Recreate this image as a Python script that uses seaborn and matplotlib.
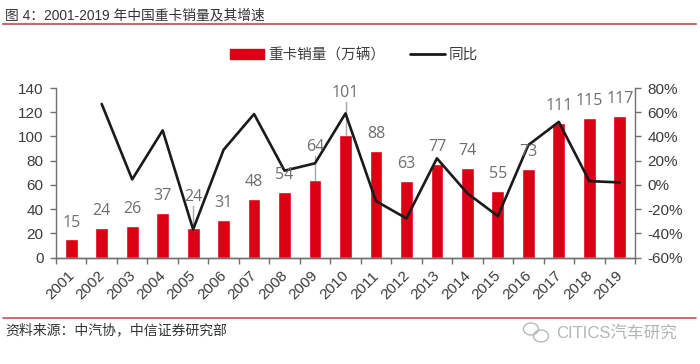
import matplotlib
matplotlib.use("Agg")
import matplotlib.pyplot as plt
from matplotlib.lines import Line2D
from matplotlib.patches import Patch, Ellipse
import numpy as np
import pandas as pd
import seaborn as sns

years = [str(y) for y in range(2001, 2020)]
sales = [15, 24, 26, 37, 24, 31, 48, 54, 64, 101, 88, 63, 77, 74, 55, 73, 111, 115, 117]
yoy = [np.nan, 66.8, 4.5, 45, -36.8, 29, 58.5, 11.7, 17.8, 59, -13.4, -27.7, 21.9, -7, -25.8, 32.9, 52, 3.1, 2]
label_offsets_px = [16, 17, 17, 17, 31, 17, 17, 17, 33, 42, 17, 17, 17, 17, 17, 17, 17, 17, 17]
leader_years = ["2005", "2009", "2010"]

W, H = 700, 364
sns.set_theme(style="white")
plt.rcParams['font.family'] = ['Liberation Sans', 'Noto Sans CJK SC', 'DejaVu Sans']
fig = plt.figure(figsize=(W / 100, H / 100), dpi=100, facecolor="white")
ax = fig.add_axes([56 / W, 1 - 257.5 / H, (635 - 56) / W, (257.5 - 88) / H])

RED = "#dc0014"
TXT = "#3c3c3c"
GREY = "#6e6e6e"
AX = "#707070"
df = pd.DataFrame({"year": years, "sales": sales, "yoy": yoy})
sns.barplot(data=df, x="year", y="sales", color=RED, saturation=1, width=0.42, ax=ax)
ax.set_xlim(-0.5, 18.5)
ax.set_ylim(0, 140)
ax.set_yticks(range(0, 141, 20))
ax.set_xlabel("")
ax.set_ylabel("")
ax.set_xticks(np.arange(-0.5, 19, 1), minor=False)
ax.set_xticklabels([])
ax.tick_params(axis="x", length=4, width=1, color=AX, direction="out", bottom=True)
ax.tick_params(axis="y", length=4, width=1, color=AX, direction="out", left=True, labelsize=11, labelcolor=TXT, pad=5)
for i, y in enumerate(years):
    ax.annotate(y, (i, 0), xytext=(-3, -8), textcoords="offset points", rotation=45, rotation_mode="anchor",
                ha="right", va="top", fontsize=11, color=TXT, annotation_clip=False)

ax2 = ax.twinx()
sns.lineplot(data=df, x="year", y="yoy", color="#1a1a1a", linewidth=1.9, ax=ax2, sort=False, zorder=4)
ax2.set_ylim(-60, 80)
ax2.set_yticks(range(-60, 81, 20))
ax2.set_yticklabels([f"{v}%" for v in range(-60, 81, 20)])
ax2.set_ylabel("")
ax2.set_xlabel("")
ax2.tick_params(axis="y", length=4, width=1, color=AX, direction="out", right=True, labelsize=11, labelcolor=TXT, pad=5)

for a in (ax, ax2):
    a.spines["top"].set_visible(False)
    for s in ("left", "right", "bottom"):
        a.spines[s].set_color(AX)
        a.spines[s].set_linewidth(1)
ax.spines["right"].set_visible(False)
ax2.spines["left"].set_visible(False)

for i, (y, v, off) in enumerate(zip(years, sales, label_offsets_px)):
    ax2.annotate(str(v), xy=(i, -60 + v), xycoords="data", xytext=(0, off * 0.72), textcoords="offset points",
                 ha="center", va="center", fontsize=11.5, color=GREY, family=["Open Sans", "DejaVu Sans"], zorder=5)
    if y in leader_years:
        ax2.plot([i, i], [-60 + v, -60 + v + (off - 9) / 1.21], color="#a8a8a8", lw=1, zorder=3)

handles = [Patch(facecolor=RED, edgecolor=RED), Line2D([0], [0], color="#1a1a1a", lw=2)]
fig.legend(handles, ["重卡销量（万辆）", "同比"], loc="center", bbox_to_anchor=(354 / W, 1 - 55 / H), ncol=2, frameon=False,
           labelcolor=TXT, handlelength=2.35, handleheight=0.6, handletextpad=0.3, columnspacing=1.7,
           prop={"family": ["Noto Sans CJK SC"], "size": 10.5})

fig.text(5 / W, 1 - 15 / H, "图 4：2001-2019 年中国重卡销量及其增速", fontsize=9.9, color="#333333", va="center", ha="left")
fig.text(5 / W, 1 - 330 / H, "资料来源：中汽协，中信证券研究部", fontsize=10, color="#333333", va="center", ha="left")
fig.text(556 / W, 1 - 333 / H, "CITICS汽车研究", fontsize=12, color="#b4b4b4", va="center", ha="left")
fig.add_artist(Line2D([3 / W, 696 / W], [1 - 24 / H, 1 - 24 / H], color="#c96a6a", lw=1.5))
fig.add_artist(Line2D([3 / W, 696 / W], [1 - 318 / H, 1 - 318 / H], color="#c9505a", lw=1.2))
for cx, cy, w, h in [(531, 329, 15, 12), (541, 336, 15, 12)]:
    fig.add_artist(Ellipse((cx / W, 1 - cy / H), w / W, h / H, transform=fig.transFigure, fill=False, edgecolor="#b9b9b9", lw=1))
fig.savefig("out.png", dpi=100, facecolor="white")
